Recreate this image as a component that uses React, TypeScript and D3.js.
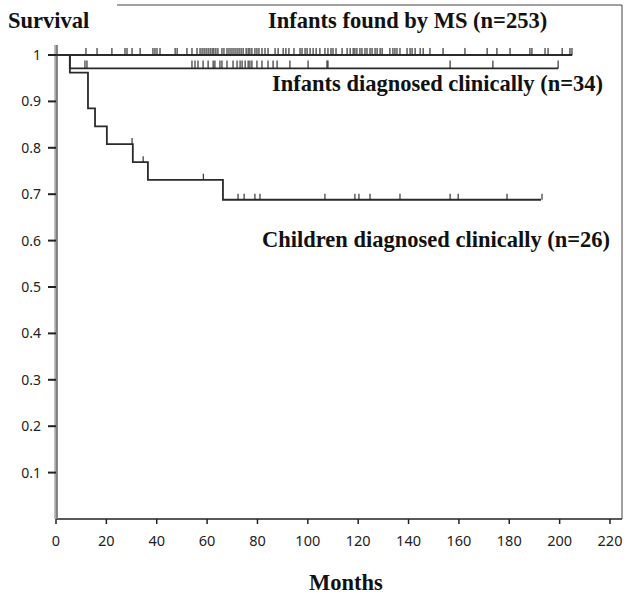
import React, { useRef, useEffect } from "react";
import * as d3 from "d3";

// Kaplan-Meier steps (months, survival)
const msTimes = [0, 205];
const msSurv = [1, 1];
const clinicalTimes = [0, 5.5, 199.4];
const clinicalSurv = [1, 0.971, 0.971];
const childrenTimes = [0, 5.5, 12.7, 15.5, 20.2, 30.5, 36.5, 66.3, 192.6];
const childrenSurv = [1, 0.962, 0.885, 0.846, 0.808, 0.769, 0.731, 0.688, 0.688];

// censored observations (months)
const msCensored = [
  11.9, 16.3, 22.2, 27.4, 28.2, 30.2, 33.4, 38.5, 39.3, 40.1, 41.3, 47.3, 48.1, 52.0,
  54.0, 56.0, 57.2, 58.0, 58.8, 59.6, 60.4, 61.2, 62.0, 62.7, 63.5, 64.3, 65.9, 66.7,
  67.9, 68.7, 69.5, 70.3, 71.1, 71.9, 72.7, 73.5, 74.3, 75.5, 76.3, 77.0, 77.8, 79.0,
  79.8, 80.6, 81.8, 83.0, 84.2, 87.0, 88.2, 90.2, 91.3, 92.5, 94.5, 96.9, 97.7, 98.9,
  99.7, 100.9, 102.1, 103.3, 104.8, 106.8, 108.0, 109.2, 110.0, 111.2, 113.6, 115.6,
  116.8, 118.0, 118.7, 119.5, 120.7, 121.5, 122.7, 123.5, 124.7, 125.5, 126.7, 127.5,
  128.7, 129.5, 132.6, 133.8, 134.6, 135.4, 136.6, 139.4, 140.6, 141.4, 142.6, 144.6,
  145.8, 148.5, 153.7, 162.4, 171.2, 175.1, 180.3, 188.2, 189.0, 194.2, 195.4, 201.0,
  204.1, 204.9,
];
const clinicalCensored = [
  11.5, 12.3, 54.0, 55.2, 56.4, 58.4, 60.4, 62.4, 63.1, 65.1, 65.9, 67.9, 70.3, 71.9,
  73.1, 73.9, 75.1, 76.3, 77.0, 77.8, 79.8, 81.8, 84.2, 86.2, 87.8, 92.9, 100.1, 107.6,
  108.0, 156.5, 173.5, 199.4,
];
const childrenCensored = [
  30.2, 34.6, 58.5, 72.3, 74.7, 79.0, 81.0, 106.8, 118.7, 120.3, 124.7, 136.6, 156.5,
  159.7, 179.1, 193.0,
];

const xTicks = [0, 20, 40, 60, 80, 100, 120, 140, 160, 180, 200, 220];
const yTicks = [0.1, 0.2, 0.3, 0.4, 0.5, 0.6, 0.7, 0.8, 0.9, 1];

const App = () => {
  const svgRef = useRef<SVGSVGElement>(null);

  useEffect(() => {
    const width = 626;
    const height = 595;
    const svg = d3.select(svgRef.current);
    svg.selectAll("*").remove();

    const x = d3.scaleLinear().domain([0, 220]).range([56, 610]);
    const y = d3.scaleLinear().domain([0, 1]).range([519, 55]);

    const serif = "'Liberation Serif', serif";
    const sans = "'Noto Sans', sans-serif";
    const ink = "#222";

    svg.attr("width", width).attr("height", height);
    svg.append("rect").attr("width", width).attr("height", height).attr("fill", "#fff");

    // frame
    svg
      .append("path")
      .attr("d", `M117,5H622V${y(0)}`)
      .attr("fill", "none")
      .attr("stroke", "#444")
      .attr("stroke-width", 1);
    svg
      .append("line")
      .attr("x1", x(0))
      .attr("x2", 622)
      .attr("y1", y(0))
      .attr("y2", y(0))
      .attr("stroke", ink)
      .attr("stroke-width", 1.5);
    // y axis (thick gray band)
    svg
      .append("line")
      .attr("x1", x(0))
      .attr("x2", x(0))
      .attr("y1", 45)
      .attr("y2", y(0))
      .attr("stroke", "#aaa")
      .attr("stroke-width", 3.5);
    svg
      .append("line")
      .attr("x1", x(0) + 1)
      .attr("x2", x(0) + 1)
      .attr("y1", 45)
      .attr("y2", y(0))
      .attr("stroke", "#555")
      .attr("stroke-width", 1);

    // y ticks
    const yAxis = svg.append("g");
    yTicks.forEach((t) => {
      yAxis
        .append("line")
        .attr("x1", 48)
        .attr("x2", x(0))
        .attr("y1", y(t))
        .attr("y2", y(t))
        .attr("stroke", ink)
        .attr("stroke-width", 2);
      yAxis
        .append("text")
        .attr("x", 41)
        .attr("y", y(t) + 5)
        .attr("text-anchor", "end")
        .attr("font-family", sans)
        .attr("font-size", 14)
        .attr("fill", ink)
        .text(t === 1 ? "1" : String(t));
    });

    // x ticks
    const xAxis = svg.append("g");
    xTicks.forEach((t) => {
      xAxis
        .append("line")
        .attr("x1", x(t))
        .attr("x2", x(t))
        .attr("y1", y(0))
        .attr("y2", y(0) + 5)
        .attr("stroke", ink)
        .attr("stroke-width", 1.5);
      xAxis
        .append("text")
        .attr("x", x(t))
        .attr("y", 546)
        .attr("text-anchor", "middle")
        .attr("font-family", sans)
        .attr("font-size", 14.5)
        .attr("fill", ink)
        .text(t);
    });

    // survival curves
    const line = d3
      .line<[number, number]>()
      .x((d) => x(d[0]))
      .y((d) => y(d[1]))
      .curve(d3.curveStepAfter);

    const curves = [
      { times: msTimes, surv: msSurv, censored: msCensored, tick: 7 },
      { times: clinicalTimes, surv: clinicalSurv, censored: clinicalCensored, tick: 8 },
      { times: childrenTimes, surv: childrenSurv, censored: childrenCensored, tick: 6 },
    ];

    curves.forEach((c) => {
      const pts = c.times.map((t, i) => [t, c.surv[i]] as [number, number]);
      svg
        .append("path")
        .attr("d", line(pts))
        .attr("fill", "none")
        .attr("stroke", "#2a2a2a")
        .attr("stroke-width", 1.8);

      const survAt = (t: number) => {
        const i = d3.bisectRight(c.times, t) - 1;
        return c.surv[Math.max(0, i)];
      };
      svg
        .append("g")
        .selectAll("line")
        .data(c.censored)
        .join("line")
        .attr("x1", (d) => x(d))
        .attr("x2", (d) => x(d))
        .attr("y1", (d) => y(survAt(d)))
        .attr("y2", (d) => y(survAt(d)) - c.tick)
        .attr("stroke", "#222")
        .attr("stroke-width", 1.1);
    });

    // labels
    const label = (txt: string, lx: number, ly: number, size: number) =>
      svg
        .append("text")
        .attr("x", lx)
        .attr("y", ly)
        .attr("font-family", serif)
        .attr("font-weight", "bold")
        .attr("font-size", size)
        .attr("fill", "#111")
        .text(txt);

    label("Survival", 8, 28, 22.5);
    label("Infants found by MS (n=253)", 268, 28, 22.5);
    label("Infants diagnosed clinically (n=34)", 272, 91, 22.5);
    label("Children diagnosed clinically (n=26)", 262, 247, 22.5);
    label("Months", 309, 590, 22.5);
  }, []);

  return <svg ref={svgRef} style={{ position: "absolute", left: 0, top: 0 }}></svg>;
};

export default App;
